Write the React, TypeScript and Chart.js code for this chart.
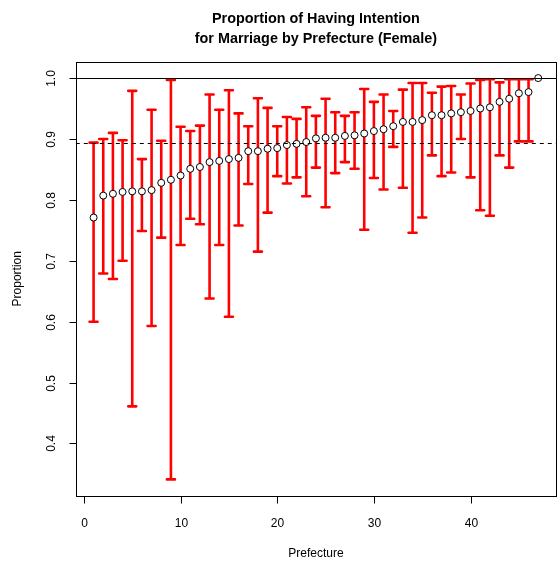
import { useEffect, useRef } from "react";
import { Chart, registerables } from "chart.js";

Chart.register(...registerables);

// Prefecture index (1..47) and proportion with interval bounds
const prefecture = [
  1, 2, 3, 4, 5, 6, 7, 8, 9, 10, 11, 12, 13, 14, 15, 16, 17, 18, 19, 20, 21, 22, 23, 24,
  25, 26, 27, 28, 29, 30, 31, 32, 33, 34, 35, 36, 37, 38, 39, 40, 41, 42, 43, 44, 45, 46, 47,
];

const proportion = [
  0.771, 0.807, 0.81, 0.813, 0.814, 0.814, 0.816, 0.828, 0.833, 0.84, 0.851, 0.854, 0.862,
  0.864, 0.867, 0.869, 0.88, 0.88, 0.884, 0.885, 0.89, 0.892, 0.895, 0.901, 0.902, 0.902,
  0.905, 0.906, 0.909, 0.913, 0.916, 0.921, 0.928, 0.928, 0.931, 0.939, 0.939, 0.942, 0.944,
  0.946, 0.95, 0.952, 0.961, 0.966, 0.975, 0.977, 1.0,
];

const upper = [
  0.894, 0.9, 0.91, 0.898, 0.979, 0.867, 0.948, 0.897, 0.997, 0.92, 0.913, 0.922, 0.973,
  0.948, 0.98, 0.942, 0.921, 0.967, 0.951, 0.921, 0.936, 0.933, 0.952, 0.938, 0.966, 0.944,
  0.938, 0.944, 0.982, 0.961, 0.973, 0.946, 0.981, 0.992, 0.992, 0.976, 0.986, 0.987, 0.973,
  0.991, 0.997, 0.998, 0.993, 0.998, 0.998, 0.998, null,
];

const lower = [
  0.6, 0.679, 0.67, 0.7, 0.461, 0.749, 0.593, 0.738, 0.341, 0.726, 0.769, 0.76, 0.638, 0.726,
  0.608, 0.758, 0.826, 0.715, 0.779, 0.839, 0.827, 0.837, 0.806, 0.853, 0.788, 0.844, 0.862,
  0.851, 0.751, 0.836, 0.817, 0.887, 0.82, 0.746, 0.771, 0.873, 0.839, 0.845, 0.9, 0.837,
  0.783, 0.774, 0.873, 0.853, 0.896, 0.896, null,
];

const overallProportion = 0.893;

const xTicks = [0, 10, 20, 30, 40];
const yTicks = [0.4, 0.5, 0.6, 0.7, 0.8, 0.9, 1.0];

const titleLines = ["Proportion of Having Intention", "for Marriage by Prefecture (Female)"];
const xTitle = "Prefecture";
const yTitle = "Proportion";

const FONT = "'Liberation Sans', Arial, Helvetica, sans-serif";
const CANVAS_W = 561;
const CANVAS_H = 561;

const errorBars = {
  id: "errorBars",
  beforeDatasetsDraw(chart: any) {
    const { ctx, chartArea, scales } = chart;
    const xs = scales.x;
    const ys = scales.y;
    ctx.save();
    ctx.beginPath();
    ctx.rect(chartArea.left, chartArea.top, chartArea.right - chartArea.left, chartArea.bottom - chartArea.top);
    ctx.clip();
    ctx.strokeStyle = "#ff0000";
    ctx.lineWidth = 2.6;
    ctx.lineCap = "round";
    const half = 4;
    prefecture.forEach((p, i) => {
      const hi = upper[i];
      const lo = lower[i];
      if (hi == null || lo == null) return;
      const px = xs.getPixelForValue(p);
      const yHi = ys.getPixelForValue(hi);
      const yLo = ys.getPixelForValue(lo);
      ctx.beginPath();
      ctx.moveTo(px, yLo);
      ctx.lineTo(px, yHi);
      ctx.moveTo(px - half, yHi);
      ctx.lineTo(px + half, yHi);
      ctx.moveTo(px - half, yLo);
      ctx.lineTo(px + half, yLo);
      ctx.stroke();
    });
    ctx.restore();
  },
};

const refLines = {
  id: "refLines",
  afterDatasetsDraw(chart: any) {
    const { ctx, chartArea, scales } = chart;
    const ys = scales.y;
    ctx.save();
    ctx.beginPath();
    ctx.rect(chartArea.left, chartArea.top, chartArea.right - chartArea.left, chartArea.bottom - chartArea.top);
    ctx.clip();
    ctx.strokeStyle = "#000000";
    ctx.lineWidth = 1;
    const y1 = Math.round(ys.getPixelForValue(1.0)) + 0.5;
    ctx.beginPath();
    ctx.moveTo(chartArea.left, y1);
    ctx.lineTo(chartArea.right, y1);
    ctx.stroke();
    const yd = Math.round(ys.getPixelForValue(overallProportion)) + 0.5;
    ctx.setLineDash([4, 4]);
    ctx.beginPath();
    ctx.moveTo(chartArea.left, yd);
    ctx.lineTo(chartArea.right, yd);
    ctx.stroke();
    ctx.restore();
  },
};

const frameAndText = {
  id: "frameAndText",
  afterDraw(chart: any) {
    const { ctx, chartArea, scales } = chart;
    const xs = scales.x;
    const ys = scales.y;
    const left = Math.round(chartArea.left) + 0.5;
    const right = Math.round(chartArea.right) + 0.5;
    const top = Math.round(chartArea.top) + 0.5;
    const bottom = Math.round(chartArea.bottom) + 0.5;
    ctx.save();
    ctx.strokeStyle = "#000000";
    ctx.fillStyle = "#000000";
    ctx.lineWidth = 1;
    ctx.strokeRect(left, top, right - left, bottom - top);

    // x axis ticks and labels
    ctx.font = `12px ${FONT}`;
    ctx.textAlign = "center";
    ctx.textBaseline = "middle";
    xTicks.forEach((t) => {
      const px = Math.round(xs.getPixelForValue(t)) + 0.5;
      ctx.beginPath();
      ctx.moveTo(px, bottom);
      ctx.lineTo(px, bottom + 7);
      ctx.stroke();
      ctx.fillText(String(t), px, bottom + 27);
    });

    // y axis ticks and rotated labels
    yTicks.forEach((t) => {
      const py = Math.round(ys.getPixelForValue(t)) + 0.5;
      ctx.beginPath();
      ctx.moveTo(left, py);
      ctx.lineTo(left - 7, py);
      ctx.stroke();
      ctx.save();
      ctx.translate(left - 25, py);
      ctx.rotate(-Math.PI / 2);
      ctx.fillText(t.toFixed(1), 0, 0);
      ctx.restore();
    });

    // axis titles
    const cx = (chartArea.left + chartArea.right) / 2;
    const cy = (chartArea.top + chartArea.bottom) / 2;
    ctx.fillText(xTitle, cx, 554);
    ctx.save();
    ctx.translate(18, cy);
    ctx.rotate(-Math.PI / 2);
    ctx.fillText(yTitle, 0, 0);
    ctx.restore();

    // main title
    ctx.font = `bold 14.4px ${FONT}`;
    ctx.fillText(titleLines[0], cx, 19);
    ctx.fillText(titleLines[1], cx, 39);
    ctx.restore();
  },
};

export default function App() {
  const canvasRef = useRef<HTMLCanvasElement | null>(null);

  useEffect(() => {
    const canvas = canvasRef.current;
    if (!canvas) return;
    const chart = new Chart(canvas, {
      type: "scatter",
      data: {
        datasets: [
          {
            data: prefecture.map((p, i) => ({ x: p, y: proportion[i] })),
            pointStyle: "circle",
            pointRadius: 3.5,
            pointBorderWidth: 1,
            pointBorderColor: "#000000",
            pointBackgroundColor: "#ffffff",
            showLine: false,
          },
        ],
      },
      options: {
        responsive: false,
        animation: false,
        devicePixelRatio: 1,
        events: [],
        layout: {
          padding: { left: 75.8, right: CANVAS_W - 559.7, top: 62, bottom: CANVAS_H - 495.5 },
        },
        plugins: {
          legend: { display: false },
          tooltip: { enabled: false },
          title: { display: false },
        },
        scales: {
          x: { type: "linear", display: false, min: -0.84, max: 48.84 },
          y: { type: "linear", display: false, min: 0.3146, max: 1.0264 },
        },
      },
      plugins: [errorBars, refLines, frameAndText],
    });
    return () => chart.destroy();
  }, []);

  return (
    <div
      style={{
        position: "fixed",
        left: 0,
        top: 0,
        width: 557,
        height: 561,
        overflow: "hidden",
        background: "#ffffff",
      }}
    >
      <canvas
        ref={canvasRef}
        width={CANVAS_W}
        height={CANVAS_H}
        style={{ display: "block", width: CANVAS_W, height: CANVAS_H }}
      />
    </div>
  );
}
